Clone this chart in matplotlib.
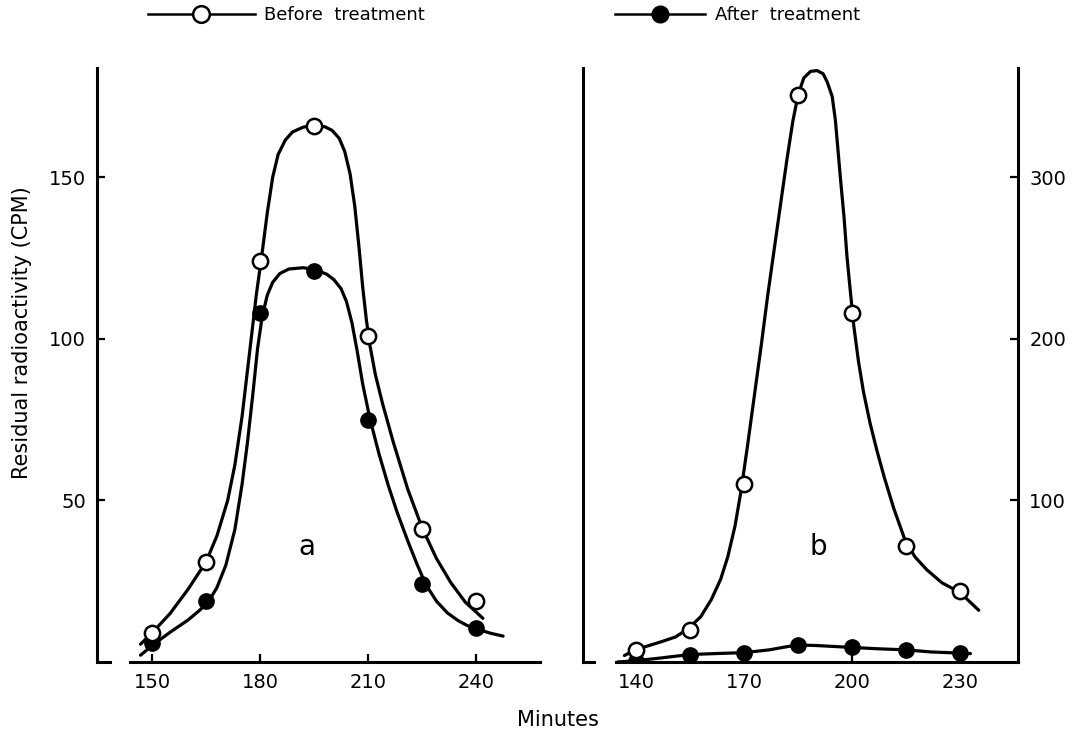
import numpy as np
import matplotlib.pyplot as plt
from matplotlib.lines import Line2D

# panel a: measured points (CPM)
a_minutes = [150, 165, 180, 195, 210, 225, 240]
a_before = [9, 31, 124, 166, 101, 41, 19]
a_after = [6, 19, 108, 121, 75, 24, 10.5]

# panel a: hand-drawn curves
a_before_curve_x = [146.8, 150, 155, 160, 165, 168, 171, 173, 175, 177, 179, 180.5, 182,
                    183.5, 185, 187, 189, 192, 195, 198, 200, 202, 203.5, 205, 206.3,
                    207.5, 208.5, 209.5, 210.5, 212, 214, 217, 221, 225, 229, 233, 237,
                    241.9]
a_before_curve_y = [5.5, 9, 15, 22.5, 31, 39, 50, 61, 76, 95, 114, 126, 139,
                    150, 157, 161.5, 164, 165.5, 166, 165.6, 164.5, 162, 158, 151, 141,
                    128, 116, 106, 98, 89, 80, 68, 53.5, 41.5, 32, 24.5, 18.5,
                    13.5]
a_after_curve_x = [146.8, 150.5, 155, 160, 163, 165.6, 168, 170.5, 173, 175, 176.5, 178,
                   179.3, 180.6, 182, 183.5, 185.5, 188, 192, 195.5, 198.5, 200.5, 202.5,
                   204, 205.5, 207, 208.5, 210.5, 213, 215.5, 218, 221, 223.5, 226, 229,
                   232, 235, 237.5, 240.5, 244, 247.5]
a_after_curve_y = [2.1, 5.5, 9.2, 13, 15.8, 18.5, 23, 30, 41, 55, 68, 83,
                   97, 107, 113.5, 117.5, 120.2, 121.6, 122, 121.3, 120, 118.3, 115.5,
                   111.5, 105, 96, 86, 75.3, 64.5, 55, 46.5, 37.5, 30.5, 24, 18.8,
                   15.2, 12.8, 11.3, 10.1, 8.9, 8.0]

# panel b: measured points (CPM)
b_minutes = [140, 155, 170, 185, 200, 215, 230]
b_before = [7.7, 20, 110, 351, 216, 72, 44]
b_after = [0.5, 4.6, 5.8, 10.5, 9, 7.5, 5.5]

# panel b: hand-drawn curves
b_before_curve_x = [136.8, 140, 147, 151, 154.4, 158, 160.9, 163.5, 165.5, 167.5, 169.2,
                    171, 172.9, 174.8, 176.6, 178.5, 180.4, 182, 183.6, 185, 186.6, 188.5,
                    190.3, 192, 193.1, 194.5, 195.4, 196.8, 197.8, 198.6, 199.6, 200.5,
                    201.8, 203.2, 205, 206.9, 209, 211.6, 214.8, 217.5, 220.8, 225, 230,
                    235.2]
b_before_curve_y = [4, 7.7, 12.5, 15.5, 20.4, 28, 38.5, 51, 65, 84, 106,
                    134, 165, 196, 227, 257, 287, 312, 335, 350.6, 361.4, 365.5,
                    366, 364, 359, 350, 335, 299, 275, 251, 228, 208,
                    186, 167, 148, 131, 114, 95, 75, 65, 57, 49, 43,
                    32]
b_after_curve_x = [134.9, 140, 147, 154.8, 162, 170.1, 177, 182, 185, 190, 200, 207, 215,
                   222, 230, 232.9]
b_after_curve_y = [0, 0.8, 2.5, 4.6, 5.2, 5.8, 7.5, 9.5, 10.5, 10.2, 9, 8.2, 7.5,
                   6.2, 5.5, 5.2]

a_xticks = [150, 180, 210, 240]
a_yticks = [50, 100, 150]
b_xticks = [140, 170, 200, 230]
b_yticks = [100, 200, 300]

plt.rcParams['font.family'] = 'DejaVu Sans'

fig = plt.figure(figsize=(10.75, 7.31), dpi=100)
ax_a = fig.add_axes([0.0902, 0.0944, 0.412, 0.8126])
ax_b = fig.add_axes([0.5423, 0.0944, 0.4047, 0.8126])

curve_kw = dict(color='black', lw=2.3, solid_capstyle='round', solid_joinstyle='round',
                zorder=2)
open_kw = dict(ls='none', marker='o', ms=11, mfc='white', mec='black', mew=1.8, zorder=3)
fill_kw = dict(ls='none', marker='o', ms=11, mfc='black', mec='black', mew=1.0, zorder=3)

# panel a
ax_a.plot(a_before_curve_x, a_before_curve_y, **curve_kw)
ax_a.plot(a_after_curve_x, a_after_curve_y, **curve_kw)
ax_a.plot(a_minutes, a_after, **fill_kw)
ax_a.plot(a_minutes, a_before, **open_kw)
ax_a.set_xlim(134.7, 257.7)
ax_a.set_ylim(0, 183.8)
ax_a.set_xticks(a_xticks)
ax_a.set_yticks(a_yticks)
ax_a.spines[['top', 'right']].set_visible(False)
ax_a.spines['bottom'].set_bounds(143.9, 257.7)
ax_a.plot([0, 0.03], [0, 0], transform=ax_a.transAxes, color='black', lw=2.2,
          clip_on=False)
ax_a.text(193, 35.5, 'a', fontsize=20, ha='center', va='center')

# panel b
ax_b.plot(b_before_curve_x, b_before_curve_y, **curve_kw)
ax_b.plot(b_after_curve_x, b_after_curve_y, **curve_kw)
ax_b.plot(b_minutes, b_after, **fill_kw)
ax_b.plot(b_minutes, b_before, **open_kw)
ax_b.set_xlim(125.3, 246.1)
ax_b.set_ylim(0, 367.6)
ax_b.set_xticks(b_xticks)
ax_b.set_yticks(b_yticks)
ax_b.yaxis.tick_right()
ax_b.spines['top'].set_visible(False)
ax_b.spines['bottom'].set_bounds(134.5, 246.1)
ax_b.plot([0, 0.025], [0, 0], transform=ax_b.transAxes, color='black', lw=2.2,
          clip_on=False)
ax_b.text(190.7, 71, 'b', fontsize=20, ha='center', va='center')

for ax in (ax_a, ax_b):
    ax.patch.set_alpha(0)
    for sp in ax.spines.values():
        sp.set_linewidth(2.2)
    ax.tick_params(direction='in', length=6, width=1.6, labelsize=14, pad=8)

fig.text(22 / 1075, 1 - 333 / 731, 'Residual radioactivity (CPM)', rotation=90,
         ha='center', va='center', fontsize=15)
fig.text(558 / 1075, 1 - 720 / 731, 'Minutes', ha='center', va='center', fontsize=15)

# legend at the top
before_h = Line2D([], [], color='black', lw=1.8, marker='o', ms=12, mfc='white',
                  mec='black', mew=1.8)
after_h = Line2D([], [], color='black', lw=1.8, marker='o', ms=12, mfc='black',
                 mec='black')
fig.legend(handles=[before_h], labels=['Before  treatment'], loc='center left',
           bbox_to_anchor=(148 / 1075, 1 - 15 / 731), frameon=False, fontsize=13,
           handlelength=5.9, handletextpad=0.55, borderpad=0, borderaxespad=0)
fig.legend(handles=[after_h], labels=['After  treatment'], loc='center left',
           bbox_to_anchor=(615 / 1075, 1 - 15 / 731), frameon=False, fontsize=13,
           handlelength=5.0, handletextpad=0.55, borderpad=0, borderaxespad=0)

fig.savefig('out.png', dpi=100)
